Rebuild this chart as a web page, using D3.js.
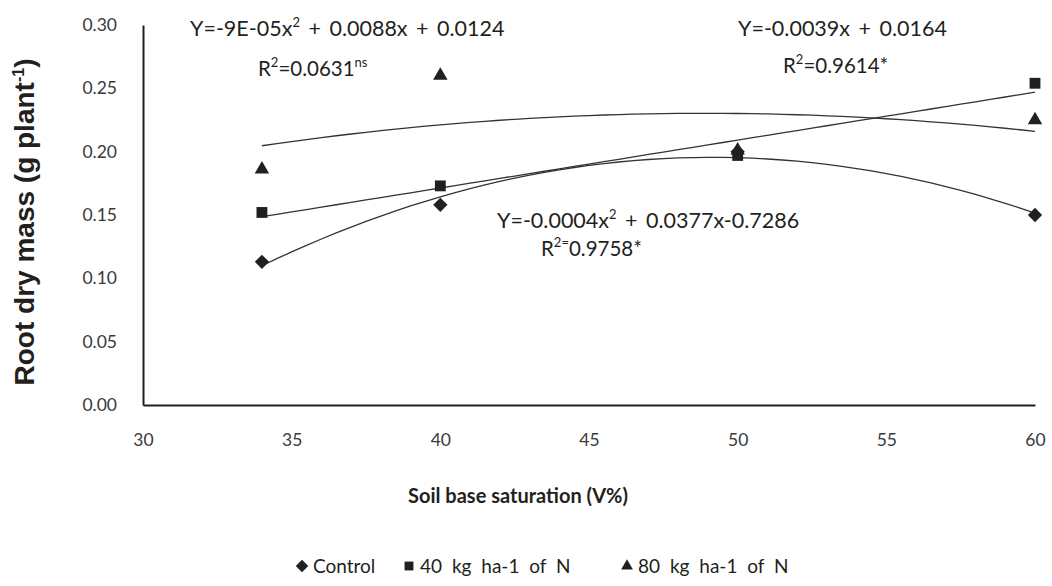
<!DOCTYPE html>
<html>
<head>
<meta charset="utf-8">
<script src="https://cdn.jsdelivr.net/npm/d3@7"></script>
<style>
  body { margin: 0; background: #fff; }
  svg { display: block; }
  text { fill: #231f20; }
</style>
</head>
<body>
<svg id="chart" width="1052" height="586"></svg>
<script>
// data
var xVals = [34, 40, 50, 60]
var control = [0.113, 0.158, 0.200, 0.150]
var n40 = [0.152, 0.173, 0.197, 0.254]
var n80 = [0.186, 0.260, 0.201, 0.225]
var xTicks = [30, 35, 40, 45, 50, 55, 60]
var yTicks = [0, 0.05, 0.10, 0.15, 0.20, 0.25, 0.30]
var seriesNames = ["Control", "40 kg ha-1 of N", "80 kg ha-1 of N"]

var svg = d3.select("#chart")
var ink = "#231f20"
var sans = "Lato, 'Open Sans', sans-serif"

var x = d3.scaleLinear().domain([30, 60]).range([143, 1035])
var y = d3.scaleLinear().domain([0, 0.30]).range([405, 25])

// least squares polynomial fit (like the spreadsheet trendline)
function polyfit(xs, ys, deg) {
  let n = deg + 1
  let A = [], b = []
  for (let i = 0; i < n; i++) {
    A.push([])
    for (let j = 0; j < n; j++) A[i].push(d3.sum(xs, v => Math.pow(v, i + j)))
    b.push(d3.sum(xs, (v, k) => Math.pow(v, i) * ys[k]))
  }
  for (let i = 0; i < n; i++) {
    for (let k = i + 1; k < n; k++) {
      let f = A[k][i] / A[i][i]
      for (let j = i; j < n; j++) A[k][j] -= f * A[i][j]
      b[k] -= f * b[i]
    }
  }
  let c = new Array(n).fill(0)
  for (let i = n - 1; i >= 0; i--) {
    let s = b[i]
    for (let j = i + 1; j < n; j++) s -= A[i][j] * c[j]
    c[i] = s / A[i][i]
  }
  return t => c.reduce((acc, ci, i) => acc + ci * Math.pow(t, i), 0)
}

var series = [
  { name: seriesNames[0], vals: control, deg: 2, sym: d3.symbolDiamond2, size: 130 },
  { name: seriesNames[1], vals: n40, deg: 1, sym: d3.symbolSquare2, size: 150 },
  { name: seriesNames[2], vals: n80, deg: 2, sym: d3.symbolTriangle2, size: 150 }
]

// axes (no tick marks)
svg.append("g").attr("transform", "translate(0,405)")
  .call(d3.axisBottom(x).tickValues(xTicks).tickSize(0).tickPadding(29))
svg.append("g").attr("transform", "translate(143,0)")
  .call(d3.axisLeft(y).tickValues(yTicks).tickSize(0).tickPadding(26).tickFormat(d3.format(".2f")))
svg.selectAll(".domain").attr("stroke", ink).attr("stroke-width", 2)
svg.selectAll(".tick text")
  .style("font-family", sans).style("font-size", "17.5px").style("fill", "#3a3a3a")

// trend lines
var line = d3.line().x(d => x(d[0])).y(d => y(d[1]))
series.forEach(s => {
  let f = polyfit(xVals, s.vals, s.deg)
  let pts = d3.range(34, 60.01, 0.5).map(t => [t, f(t)])
  svg.append("path").datum(pts)
    .attr("d", line)
    .attr("fill", "none")
    .attr("stroke", "#333")
    .attr("stroke-width", 1.3)
})

// markers
series.forEach(s => {
  svg.append("g").selectAll("path").data(s.vals).enter().append("path")
    .attr("d", d3.symbol().type(s.sym).size(s.size))
    .attr("transform", (d, i) => `translate(${x(xVals[i])},${y(d)})`)
    .attr("fill", ink)
})

// axis titles
svg.append("text")
  .attr("transform", "translate(34,222) rotate(-90)")
  .attr("text-anchor", "middle")
  .style("font-family", "'Liberation Sans', Arial, sans-serif")
  .style("font-weight", "bold")
  .style("font-size", "28px")
  .call(t => {
    t.append("tspan").text("Root dry mass (g plant")
    t.append("tspan").text("-1").style("font-size", "16px").attr("dy", -10)
    t.append("tspan").text(")").attr("dy", 10)
  })

svg.append("text")
  .attr("x", 518).attr("y", 503)
  .attr("text-anchor", "middle")
  .style("font-family", sans)
  .style("font-weight", "bold")
  .style("font-size", "20px")
  .text("Soil base saturation (V%)")

// equations
function eq(px, py, fs, ws, parts) {
  let t = svg.append("text").attr("x", px).attr("y", py)
    .style("font-family", sans).style("font-size", fs + "px").style("word-spacing", ws + "px")
  parts.forEach(p => {
    if (p.sup) t.append("tspan").text(p.sup).style("font-size", "13px").attr("dy", -9)
    else t.append("tspan").text(p.t).attr("dy", p.back ? 9 : 0)
  })
}
eq(190, 36, 21.5, 3, [{ t: "Y=-9E-05x" }, { sup: "2" }, { t: " + 0.0088x + 0.0124", back: true }])
eq(258, 76, 20.5, 0, [{ t: "R" }, { sup: "2" }, { t: "=0.0631", back: true }, { sup: "ns" }])
eq(738, 36, 21.5, 3, [{ t: "Y=-0.0039x + 0.0164" }])
eq(783, 73, 20.5, 0, [{ t: "R" }, { sup: "2" }, { t: "=0.9614*", back: true }])
eq(497, 228, 21.5, 3, [{ t: "Y=-0.0004x" }, { sup: "2" }, { t: " + 0.0377x-0.7286", back: true }])
eq(541, 256, 20.5, 0, [{ t: "R" }, { sup: "2=" }, { t: "0.9758*", back: true }])

// legend
var legendX = [302, 409, 627]
var legend = svg.append("g")
series.forEach((s, i) => {
  legend.append("path")
    .attr("d", d3.symbol().type(s.sym).size(100))
    .attr("transform", `translate(${legendX[i]},${566})`)
    .attr("fill", ink)
  legend.append("text")
    .attr("x", legendX[i] + 11).attr("y", 573)
    .style("font-family", sans).style("font-size", "19px").style("word-spacing", "5px")
    .text(s.name)
})
</script>
</body>
</html>
